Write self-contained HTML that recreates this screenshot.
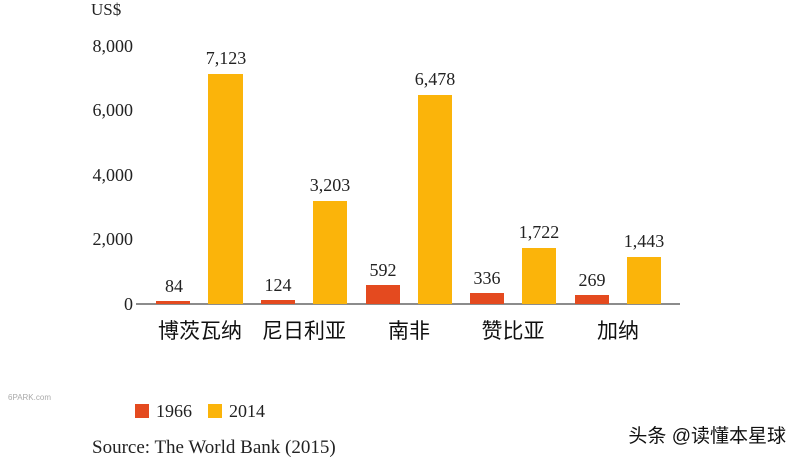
<!DOCTYPE html>
<html><head><meta charset="utf-8"><style>
body{margin:0;background:#fff;}
svg{display:block;}
.s{font-family:"Liberation Serif",serif;fill:#222;}
.c{font-family:"Liberation Sans","Noto Sans CJK SC",sans-serif;fill:#111;}
</style></head><body>
<svg width="800" height="457" viewBox="0 0 800 457">
<text x="91" y="15" class="s" font-size="17">US$</text>
<g class="s" font-size="18" text-anchor="end">
<text x="133" y="52">8,000</text>
<text x="133" y="116">6,000</text>
<text x="133" y="181">4,000</text>
<text x="133" y="245">2,000</text>
<text x="133" y="310">0</text>
</g>
<line x1="136" y1="304" x2="680" y2="304" stroke="#666" stroke-width="1.5"/>
<g fill="#e44a1f">
<rect x="156" y="301" width="34" height="3"/>
<rect x="261" y="300" width="34" height="4"/>
<rect x="366" y="285" width="34" height="19"/>
<rect x="470" y="293" width="34" height="11"/>
<rect x="575" y="295" width="34" height="9"/>
</g>
<g fill="#fbb40a">
<rect x="208" y="74" width="35" height="230"/>
<rect x="313" y="201" width="34" height="103"/>
<rect x="418" y="95" width="34" height="209"/>
<rect x="522" y="248" width="34" height="56"/>
<rect x="627" y="257" width="34" height="47"/>
</g>
<g class="s" font-size="18" text-anchor="middle">
<text x="174" y="292">84</text>
<text x="226" y="64">7,123</text>
<text x="278" y="291">124</text>
<text x="330" y="191">3,203</text>
<text x="383" y="276">592</text>
<text x="435" y="85">6,478</text>
<text x="487" y="284">336</text>
<text x="539" y="238">1,722</text>
<text x="592" y="286">269</text>
<text x="644" y="247">1,443</text>
</g>
<g class="c" font-size="21" text-anchor="middle">
<text x="200" y="338">博茨瓦纳</text>
<text x="304" y="338">尼日利亚</text>
<text x="409" y="338">南非</text>
<text x="513" y="338">赞比亚</text>
<text x="618" y="338">加纳</text>
</g>
<text x="8" y="400" font-family="Liberation Sans,sans-serif" font-size="8" fill="#aaa">6PARK.com</text>
<rect x="135" y="404" width="14" height="14" fill="#e44a1f"/>
<text x="156" y="417" class="s" font-size="18">1966</text>
<rect x="208" y="404" width="14" height="14" fill="#fbb40a"/>
<text x="229" y="417" class="s" font-size="18">2014</text>
<text x="92" y="453" class="s" font-size="19">Source: The World Bank (2015)</text>
<text x="786" y="442" class="c" font-size="19" text-anchor="end" fill="#222">头条 @读懂本星球</text>
</svg>
</body></html>
